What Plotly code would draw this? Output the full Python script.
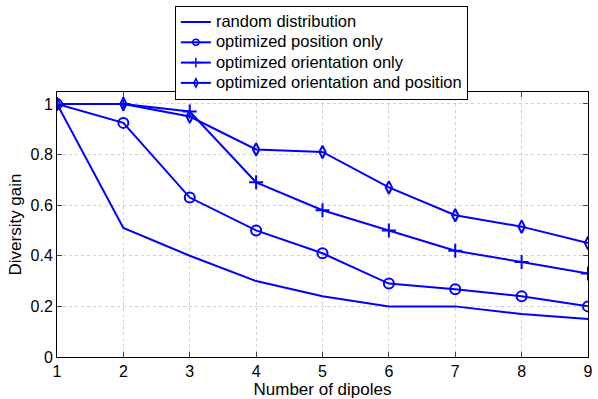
import plotly.graph_objects as go

dipoles = [1, 2, 3, 4, 5, 6, 7, 8, 9]
random_dist = [1.0, 0.51, 0.40, 0.30, 0.24, 0.20, 0.20, 0.17, 0.15]
opt_position = [1.0, 0.925, 0.63, 0.50, 0.41, 0.29, 0.268, 0.24, 0.20]
opt_orientation = [1.0, 1.0, 0.97, 0.69, 0.58, 0.50, 0.42, 0.375, 0.33]
opt_both = [1.0, 1.0, 0.95, 0.82, 0.81, 0.67, 0.56, 0.515, 0.45]
names = ["random distribution", "optimized position only",
         "optimized orientation only", "optimized orientation and position"]
yticks = [0, 0.2, 0.4, 0.6, 0.8, 1]
ytick_text = ["0", "0.2", "0.4", "0.6", "0.8", "1"]

blue = "#0000FF"
fig = go.Figure()
series = [random_dist, opt_position, opt_orientation, opt_both]
symbols = [None, "circle-open", "cross-thin-open", "diamond-tall-open"]
sizes = [0, 10, 10, 9]
legend_sizes = [0, 6, 7, 6]
for name, ys, sym, sz, lsz in zip(names, series, symbols, sizes, legend_sizes):
    label = '<span style="font-size:16.5px">' + name + '</span>'
    if sym is None:
        fig.add_trace(go.Scatter(x=dipoles, y=ys, name=name, mode="lines",
                                 line=dict(color=blue, width=2), showlegend=False))
        fig.add_trace(go.Scatter(x=[None], y=[None], name=label, mode="lines",
                                 line=dict(color=blue, width=2)))
    else:
        fig.add_trace(go.Scatter(x=dipoles, y=ys, name=name, mode="lines+markers",
                                 line=dict(color=blue, width=2), showlegend=False,
                                 marker=dict(symbol=sym, size=sz, color=blue,
                                             line=dict(color=blue, width=2))))
        fig.add_trace(go.Scatter(x=[None], y=[None], name=label, mode="lines+markers",
                                 line=dict(color=blue, width=2),
                                 marker=dict(symbol=sym, size=lsz, color=blue,
                                             line=dict(color=blue, width=1.5))))

fig.update_layout(
    width=598, height=399,
    margin=dict(l=57, r=5, t=92, b=42),
    paper_bgcolor="white", plot_bgcolor="white",
    font=dict(family="Liberation Sans, Arial, sans-serif", size=14, color="black"),
    showlegend=True,
    legend=dict(x=0.222, y=1.325, xanchor="left", yanchor="top",
                bordercolor="black", borderwidth=1, bgcolor="white",
                font=dict(size=13.3), itemwidth=30, tracegroupgap=0),
    xaxis=dict(range=[1, 9.0001], tickvals=dipoles, ticks="inside", ticklen=5,
               showline=True, linecolor="black", linewidth=1, mirror="allticks",
               showgrid=True, gridcolor="#d0d0d0", griddash="dot", gridwidth=1,
               zeroline=False, title=dict(text="Number of dipoles", standoff=0),
               tickfont=dict(size=16), ticklabeloverflow="allow"),
    yaxis=dict(range=[0, 1.047], tickvals=yticks, ticktext=ytick_text,
               ticks="inside", ticklen=5,
               showline=True, linecolor="black", linewidth=1, mirror="allticks",
               showgrid=True, gridcolor="#d0d0d0", griddash="dot", gridwidth=1,
               zeroline=False, title=dict(text="Diversity gain", standoff=4),
               tickfont=dict(size=16)),
)
fig.write_html("out.html")
